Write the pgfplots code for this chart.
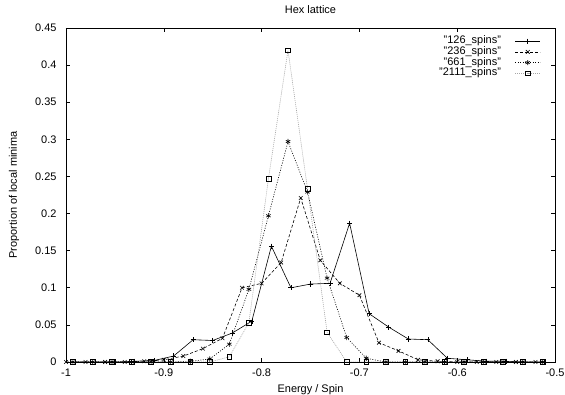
\documentclass[border=0pt]{standalone}
\usepackage{fontspec}
\setmainfont{Liberation Sans}
\usepackage{pgfplots}
\usepackage{pgfplotstable}
\pgfplotsset{compat=1.18}

\pgfplotstableread{
x y
-0.99 0
-0.97 0
-0.95 0
-0.93 0.001
-0.91 0.002
-0.89 0.008
-0.87 0.030
-0.85 0.029
-0.83 0.039
-0.81 0.055
-0.79 0.156
-0.77 0.100
-0.75 0.105
-0.73 0.106
-0.71 0.187
-0.69 0.065
-0.67 0.047
-0.65 0.031
-0.63 0.030
-0.61 0.005
-0.59 0.003
-0.57 0.001
-0.55 0.001
-0.53 0
-0.51 0
}\spinsA

\pgfplotstableread{
x y
-1.00 0
-0.98 0
-0.96 0
-0.94 0
-0.92 0.001
-0.90 0.003
-0.88 0.008
-0.86 0.018
-0.84 0.032
-0.82 0.100
-0.80 0.106
-0.78 0.134
-0.76 0.221
-0.74 0.137
-0.72 0.106
-0.70 0.090
-0.68 0.026
-0.66 0.015
-0.64 0.003
-0.62 0.001
-0.60 0
-0.58 0
-0.56 0
-0.54 0
-0.52 0
}\spinsB

\pgfplotstableread{
x y
-0.993 0
-0.973 0
-0.953 0
-0.933 0
-0.913 0
-0.893 0
-0.873 0.001
-0.853 0.004
-0.833 0.024
-0.813 0.098
-0.793 0.197
-0.773 0.297
-0.753 0.229
-0.733 0.113
-0.713 0.033
-0.693 0.005
-0.673 0
-0.653 0
-0.633 0
-0.613 0
-0.593 0
-0.573 0
-0.553 0
-0.533 0
-0.513 0
}\spinsC

\pgfplotstableread{
x y
-0.993 0
-0.973 0
-0.953 0
-0.933 0
-0.913 0
-0.893 0
-0.873 0
-0.853 0
-0.833 0.007
-0.813 0.053
-0.793 0.247
-0.773 0.420
-0.753 0.233
-0.733 0.040
-0.713 0
-0.693 0
-0.673 0
-0.653 0
-0.633 0
-0.613 0
-0.593 0
-0.573 0
-0.553 0
-0.533 0
-0.513 0
}\spinsD

\begin{document}
\begin{tikzpicture}
\begin{axis}[
  scale only axis,
  width=489bp, height=334bp,
  xmin=-1, xmax=-0.5, ymin=0, ymax=0.45,
  xtick={-1,-0.9,-0.8,-0.7,-0.6,-0.5},
  ytick={0,0.05,0.1,0.15,0.2,0.25,0.3,0.35,0.4,0.45},
  tick pos=both, tick align=inside,
  major tick length=4bp,
  minor tick num=0,
  axis line style={line width=0.6pt},
  every tick/.style={black, line width=0.6pt},
  /pgf/number format/assume math mode=true,
  yticklabel style={/pgf/number format/fixed, /pgf/number format/precision=2, font=\fontsize{11}{13}\selectfont, xshift=-6bp},
  xticklabel style={/pgf/number format/fixed, /pgf/number format/precision=2, font=\fontsize{11}{13}\selectfont, yshift=-3bp},
  scaled ticks=false,
  title={Hex lattice},
  title style={at={(axis description cs:0.5,1.036)}, anchor=center, yshift=0pt, font=\fontsize{11}{13}\selectfont},
  xlabel={Energy / Spin},
  xlabel style={at={(axis description cs:0.5,-0.084)}, anchor=center, font=\fontsize{11}{13}\selectfont},
  ylabel={Proportion of local minima},
  ylabel style={at={(axis description cs:-0.106,0.5)}, anchor=center, font=\fontsize{11}{13}\selectfont},
  legend plot pos=right,
  legend cell align=right,
  legend style={at={(axis description cs:0.977,0.982)}, anchor=north east,
    draw=none, fill=none, font=\fontsize{11}{11}\selectfont,
    row sep=0.7bp, nodes={inner sep=0pt, text height=7.5bp, text depth=2.5bp},
    /tikz/every odd column/.style={column sep=14bp}},
  legend image code/.code={\draw[mark repeat=2,mark phase=2,#1] plot coordinates {(0bp,0bp) (12.5bp,0bp) (25bp,0bp)};},
]
\addplot[black, line width=0.6pt, mark=+, mark size=2.6bp, mark options={solid}] table {\spinsA};
\addlegendentry{"126\_spins"}
\addplot[black, line width=0.6pt, dash pattern=on 3bp off 2bp, mark=x, mark size=2.6bp, mark options={solid}] table {\spinsB};
\addlegendentry{"236\_spins"}
\addplot[black, line width=0.6pt, dash pattern=on 1bp off 1.5bp, mark=asterisk, mark size=2.6bp, mark options={solid}] table {\spinsC};
\addlegendentry{"661\_spins"}
\addplot[gray!70, line width=0.6pt, dash pattern=on 1bp off 1bp, mark=square, mark size=2.4bp, mark options={solid, black}] table {\spinsD};
\addlegendentry{"2111\_spins"}
\end{axis}
\pgfresetboundingbox
\useasboundingbox (-66bp,-33bp) rectangle (499bp,362bp);
\end{tikzpicture}
\end{document}
